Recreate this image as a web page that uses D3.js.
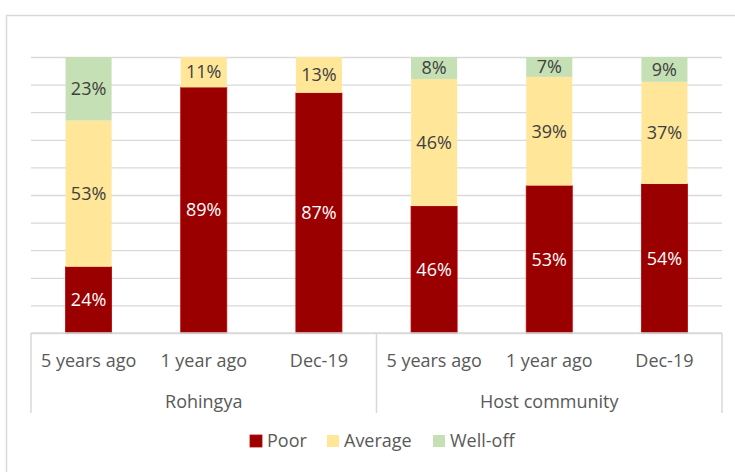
<!DOCTYPE html>
<html>
<head>
<meta charset="utf-8">
<script src="https://cdn.jsdelivr.net/npm/d3@7"></script>
<style>
  body { margin: 0; background: #fff; }
  text { font-family: "Open Sans", sans-serif; }
</style>
</head>
<body>
<div class="chart"></div>
<script>
// data (percent)
const groups = ['Rohingya', 'Rohingya', 'Rohingya', 'Host community', 'Host community', 'Host community'];
const periods = ['5 years ago', '1 year ago', 'Dec-19', '5 years ago', '1 year ago', 'Dec-19'];
const poor = [24, 89, 87, 46, 53.4, 54];
const average = [53, 11, 13, 46, 39.4, 37];
const welloff = [23, 0, 0, 8, 7.2, 9];
const seriesNames = ['Poor', 'Average', 'Well-off'];
const groupNames = ['Rohingya', 'Host community'];
const yTicks = [0, 10, 20, 30, 40, 50, 60, 70, 80, 90, 100];

const colors = {Poor: '#9b0000', Average: '#ffe699', 'Well-off': '#c5e0b4'};
const labelColors = {Poor: '#ffffff', Average: '#404040', 'Well-off': '#404040'};

const W = 735, H = 472;
const margin = {top: 57, left: 31, bottom: 139, right: 13};
const width = W - margin.left - margin.right;
const height = H - margin.top - margin.bottom;
const fs = 18;

const svg = d3.select('.chart').append('svg')
    .attr('width', W)
    .attr('height', H);

// outer chart border
svg.append('rect')
    .attr('x', 6.5).attr('y', 15.5)
    .attr('width', 760).attr('height', 500)
    .attr('fill', 'none')
    .attr('stroke', '#d9d9d9')
    .attr('stroke-width', 1.5);

const g = svg.append('g')
    .attr('transform', `translate(${margin.left},${margin.top})`);

const rows = periods.map((p, i) => ({
  key: i, period: p, group: groups[i],
  Poor: poor[i], Average: average[i], 'Well-off': welloff[i]
}));

const x = d3.scaleBand()
    .domain(rows.map(d => d.key))
    .range([0, width])
    .paddingInner(0.6)
    .paddingOuter(0.3);

const y = d3.scaleLinear()
    .domain([0, 100])
    .range([height, 0]);

// gridlines
const grid = g.append('g')
    .call(d3.axisLeft(y).tickValues(yTicks).tickSize(-width).tickFormat(''));
grid.select('.domain').remove();
grid.selectAll('line').attr('stroke', '#d9d9d9').attr('stroke-width', 1.3);

const stack = d3.stack().keys(seriesNames)(rows);

const layer = g.selectAll('.layer')
    .data(stack)
    .enter().append('g')
    .attr('class', 'layer')
    .attr('fill', d => colors[d.key]);

layer.selectAll('rect')
    .data(d => d.filter(s => s[1] - s[0] > 0))
    .enter().append('rect')
    .attr('x', d => x(d.data.key))
    .attr('y', d => y(d[1]))
    .attr('width', x.bandwidth())
    .attr('height', d => y(d[0]) - y(d[1]))
    .attr('stroke', function() {
      return d3.select(this.parentNode).datum().key === 'Poor' ? '#c00000' : 'none';
    })
    .attr('stroke-width', 0.8);

layer.selectAll('text')
    .data(d => d.filter(s => s[1] - s[0] > 0).map(s => Object.assign(s, {series: d.key})))
    .enter().append('text')
    .attr('x', d => x(d.data.key) + x.bandwidth() / 2)
    .attr('y', d => y((d[0] + d[1]) / 2))
    .attr('dy', '0.35em')
    .attr('text-anchor', 'middle')
    .attr('font-size', fs)
    .attr('fill', d => labelColors[d.series])
    .text(d => Math.round(d[1] - d[0]) + '%');

// category axis
const axisCol = '#d9d9d9';
g.append('line')
    .attr('x1', 0).attr('x2', width)
    .attr('y1', height).attr('y2', height)
    .attr('stroke', axisCol).attr('stroke-width', 1.5);

const sepX = [0, width / 2, width];
g.selectAll('.sep')
    .data(sepX)
    .enter().append('line')
    .attr('x1', d => d).attr('x2', d => d)
    .attr('y1', height).attr('y2', height + 80)
    .attr('stroke', axisCol).attr('stroke-width', 1.5);

g.selectAll('.period')
    .data(rows)
    .enter().append('text')
    .attr('x', d => x(d.key) + x.bandwidth() / 2)
    .attr('y', height + 34)
    .attr('text-anchor', 'middle')
    .attr('font-size', fs)
    .attr('fill', '#595959')
    .text(d => d.period);

g.selectAll('.group')
    .data(groupNames)
    .enter().append('text')
    .attr('x', (d, i) => width / 4 + i * width / 2)
    .attr('y', height + 75)
    .attr('text-anchor', 'middle')
    .attr('font-size', fs)
    .attr('fill', '#595959')
    .text(d => d);

// legend
const legendX = [250, 327, 433];
const legend = svg.append('g')
    .selectAll('g')
    .data(seriesNames)
    .enter().append('g')
    .attr('transform', (d, i) => `translate(${legendX[i]},435)`);

legend.append('rect')
    .attr('width', 12).attr('height', 12)
    .attr('fill', d => colors[d])
    .attr('stroke', d => d === 'Poor' ? '#c00000' : 'none')
    .attr('stroke-width', 0.8);

legend.append('text')
    .attr('x', 17).attr('y', 6)
    .attr('dy', '0.35em')
    .attr('font-size', fs)
    .attr('fill', '#595959')
    .text(d => d);
</script>
</body>
</html>
